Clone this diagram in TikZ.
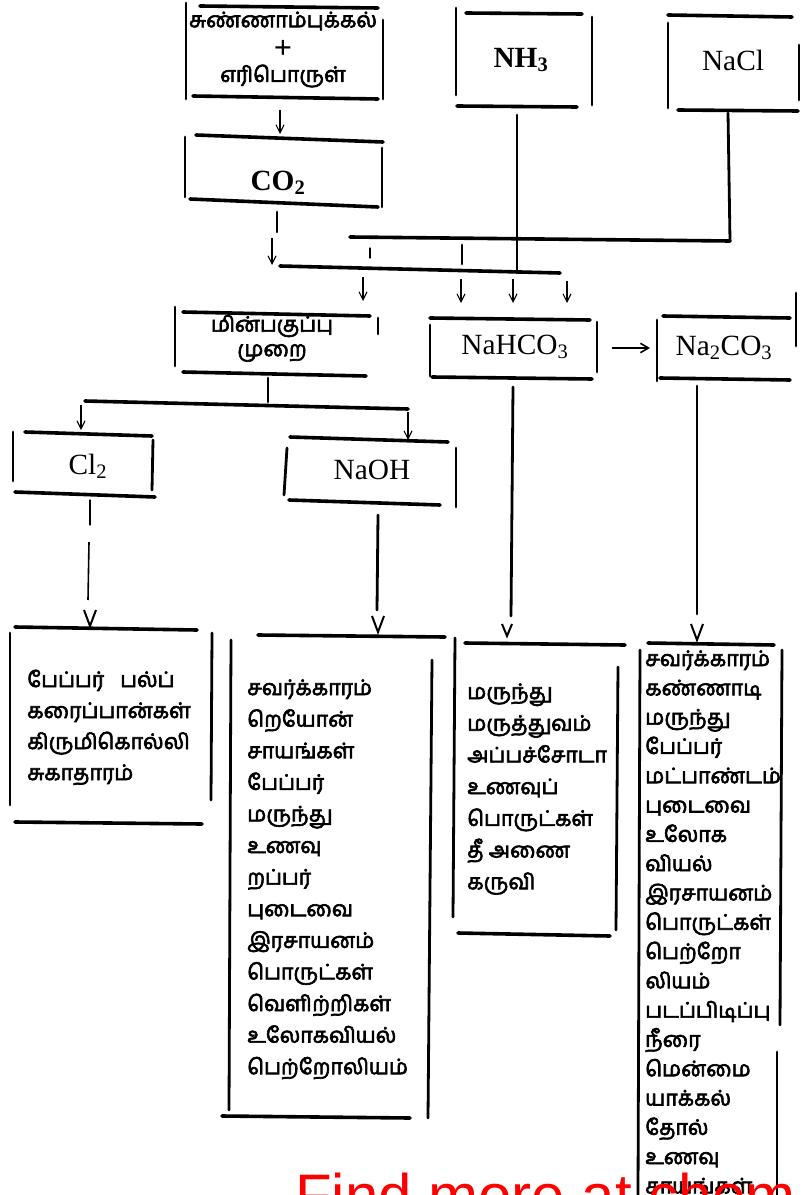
\documentclass[tikz,border=0pt]{standalone}
\usepackage{fontspec}
\setmainfont{Liberation Serif}
\newfontfamily\tamil[Script=Tamil, FakeBold=3]{Hind Madurai}
\newfontfamily\wmfont{Liberation Sans}
\usetikzlibrary{arrows.meta}
\newcommand\Vtip[1]{\draw[vee] (#1) ++(-6,-8) -- ++(6,16) -- ++(6,-16);}
\begin{document}
\begin{tikzpicture}[x=0.75pt,y=-0.75pt,
  hl/.style={line width=2.7pt, line cap=round},
  vl/.style={line width=2.1pt, line cap=round},
  thinl/.style={line width=0.8pt, line cap=round},
  sarr/.style={line width=0.8pt, -{Straight Barb[length=6pt,width=6pt,line width=0.8pt]}},
  vee/.style={line width=1.5pt},
  tam/.style={font=\tamil\fontsize{16}{18}\selectfont, inner sep=0pt, anchor=base west},
  tamc/.style={font=\tamil\fontsize{16}{18}\selectfont, inner sep=0pt, anchor=center},
  chem/.style={font=\fontsize{22}{24}\selectfont, inner sep=0pt},
  chemb/.style={font=\bfseries\fontsize{22}{24}\selectfont, inner sep=0pt}]
\useasboundingbox (0,0) rectangle (801,1195);
\fill[white] (0,0) rectangle (801,1195);

% ---------- top row ----------
\node[tamc] (lime1) at (283,21) {சுண்ணாம்புக்கல்};
\node[font=\bfseries\fontsize{24}{24}\selectfont, inner sep=0pt] (plus) at (283,49) {+};
\node[tamc] (lime2) at (283,76) {எரிபொருள்};
\draw[hl] (200,6) -- (378,8);
\draw[vl] (186,3) -- (186,99);
\draw[vl] (383,20) -- (383,99);
\draw[hl] (193,96) -- (378,99);

\node[chemb] (nh3) at (521,60) {NH\textsubscript{3}};
\draw[hl] (466,13) -- (582,14);
\draw[vl] (456,8) -- (456,95);
\draw[vl] (592,17) -- (592,105);
\draw[hl] (457,106) -- (577,107);

\node[chem] (nacl) at (733,60) {NaCl};
\draw[hl] (668,15) -- (792,17);
\draw[vl] (668,23) -- (668,108);
\draw[hl] (678,110) -- (798,111);
\draw[vl] (799,45) -- (799,100);

% ---------- CO2 ----------
\node[chemb] (co2) at (278,183) {CO\textsubscript{2}};
\draw[hl] (196,135) -- (383,142);
\draw[vl] (185,137) -- (185,197);
\draw[vl] (382,148) -- (382,207);
\draw[hl] (190,199) -- (378,207);

\coordinate (limeS) at (280,110);
\coordinate (co2N) at (280,134);
\draw[sarr] (limeS) -- (co2N);

% ---------- collector lines ----------
\coordinate (co2S) at (277,212);
\coordinate (co2T) at (277,232);
\draw[vl] (co2S) -- (co2T);
\coordinate (co2A) at (272,238);
\coordinate (lowL) at (272,265);
\draw[sarr] (co2A) -- (lowL);

\coordinate (upL) at (350,237);
\coordinate (upR) at (730,241);
\draw[hl] (upL) -- (upR);
\coordinate (naclS) at (728,113);
\draw[vl] (naclS) -- (upR);
\coordinate (nh3S) at (517,115);
\coordinate (nh3E) at (517,273);
\draw[vl] (nh3S) -- (nh3E);

\coordinate (lowA) at (280,266);
\coordinate (lowB) at (560,273);
\draw[hl] (lowA) -- (lowB);
\draw[thinl] (370,248) -- (370,258);
\draw[vl] (462,245) -- (462,264);

% arrows to second row
\coordinate (a1) at (363,277); \coordinate (a1e) at (363,301);
\coordinate (a2) at (461,279); \coordinate (a2e) at (461,303);
\coordinate (a3) at (513,279); \coordinate (a3e) at (513,303);
\coordinate (a4) at (567,281); \coordinate (a4e) at (567,303);
\draw[sarr] (a1) -- (a1e);
\draw[sarr] (a2) -- (a2e);
\draw[sarr, line width=1.3pt] (a3) -- (a3e);
\draw[sarr] (a4) -- (a4e);

% ---------- second row ----------
\node[tamc] (elec1) at (272,326) {மின்பகுப்பு};
\node[tamc] (elec2) at (272,353) {முறை};
\draw[vl] (175,307) -- (175,366);
\draw[hl] (183,312) -- (370,316);
\draw[vl] (378,318) -- (378,334);
\draw[hl] (183,372) -- (366,376);

\node[chem] (nahco3) at (515,347) {NaHCO\textsubscript{3}};
\draw[hl] (430,318) -- (590,320);
\draw[vl] (430,325) -- (430,376);
\draw[vl] (597,322) -- (597,372);
\draw[hl] (432,377) -- (592,379);

\node[chem] (na2co3) at (724,348) {Na\textsubscript{2}CO\textsubscript{3}};
\draw[vl] (657,320) -- (657,381);
\draw[hl] (663,316) -- (790,318);
\draw[vl] (796,293) -- (796,346);
\draw[hl] (660,378) -- (790,380);

\coordinate (bcA) at (612,348);
\coordinate (bcB) at (650,348);
\draw[line width=1.6pt, -{Straight Barb[length=6pt,width=7pt,line width=1.2pt]}] (bcA) -- (bcB);

% ---------- electrolysis split ----------
\coordinate (elS) at (268,378);
\coordinate (elT) at (268,402);
\draw[vl] (elS) -- (elT);
\draw[hl] (85,401) -- (408,409);
\coordinate (b1) at (81,405); \coordinate (b1e) at (81,430);
\coordinate (b2) at (408,412); \coordinate (b2e) at (408,440);
\draw[sarr] (b1) -- (b1e);
\draw[sarr] (b2) -- (b2e);

% ---------- third row ----------
\node[chem] (cl2) at (88,466) {Cl\textsubscript{2}};
\draw[vl] (13,432) -- (13,481);
\draw[hl] (25,432) -- (152,436);
\draw[vl] (153,440) -- (152,490);
\draw[hl] (15,492) -- (155,497);

\node[chem] (naoh) at (372,470) {NaOH};
\draw[hl] (290,437) -- (448,442);
\draw[vl] (287,448) -- (284,495);
\draw[vl] (456,448) -- (456,507);
\draw[hl] (289,500) -- (440,505);

% ---------- down connectors ----------
\coordinate (c1s) at (90,500); \coordinate (c1t) at (90,525);
\draw[thinl] (c1s) -- (c1t);
\coordinate (c1u) at (89,542); \coordinate (c1e) at (88,600);
\draw[line width=1.2pt] (c1u) -- (c1e);
\coordinate (v1) at (90,618); \Vtip{v1}

\coordinate (c2s) at (378,515); \coordinate (c2e) at (377,610);
\draw[vl] (c2s) -- (c2e);
\coordinate (v2) at (378,624); \Vtip{v2}

\coordinate (c3s) at (513,387); \coordinate (c3e) at (511,616);
\draw[vl] (c3s) -- (c3e);
\coordinate (v3) at (507,630); \draw[vee] (v3) ++(-5,-6) -- ++(5,12) -- ++(5,-12);

\coordinate (c4s) at (697,386); \coordinate (c4e) at (697,614);
\draw[vl] (c4s) -- (c4e);
\coordinate (v4) at (697,632); \Vtip{v4}

% ---------- list boxes ----------
\draw[hl] (15,627) -- (197,630);
\draw[vl] (10,633) -- (10,805);
\draw[vl] (212,633) -- (211,800);
\draw[hl] (15,822) -- (202,824);
\foreach \t [count=\i from 0] in {பேப்பர்\hspace{12pt}பல்ப், கரைப்பான்கள், கிருமிகொல்லி, சுகாதாரம்}
  \node[tam] (clL\i) at (27,687+31*\i) {\t};

\draw[hl] (258,635) -- (445,637);
\draw[vl] (231,640) -- (229,1110);
\draw[vl] (432,660) -- (428,1118);
\draw[hl] (222,1116) -- (410,1118);
\foreach \t [count=\i from 0] in {சவர்க்காரம், றெயோன், சாயங்கள், பேப்பர், மருந்து, உணவு, றப்பர், புடைவை, இரசாயனம், பொருட்கள், வெளிற்றிகள், உலோகவியல், பெற்றோலியம்}
  \node[tam] (ohL\i) at (247,695+31.6*\i) {\t};

\draw[hl] (465,643) -- (625,645);
\draw[vl] (455,638) -- (453,917);
\draw[vl] (618,667) -- (616,930);
\draw[hl] (458,933) -- (610,936);
\foreach \t [count=\i from 0] in {மருந்து, மருத்துவம், அப்பச்சோடா, உணவுப், பொருட்கள், தீ அணை, கருவி}
  \node[tam] (bcL\i) at (467,699+31.7*\i) {\t};

\draw[hl] (648,643) -- (774,645);
\draw[vl] (640,650) -- (638,1195);
\draw[vl] (782,650) -- (780,1025);
\draw[vl] (777,1052) -- (777,1195);
\foreach \t [count=\i from 0] in {சவர்க்காரம், கண்ணாடி, மருந்து, பேப்பர், மட்பாண்டம், புடைவை, உலோக, வியல், இரசாயனம், பொருட்கள், பெற்றோ, லியம், படப்பிடிப்பு, நீரை, மென்மை, யாக்கல், தோல், உணவு, சாயங்கள்}
  \node[tam] (ccL\i) at (645,666+29.3*\i) {\t};

% ---------- watermark ----------
\node[font=\wmfont\fontsize{45}{50}\selectfont, text=red, inner sep=0pt, anchor=base west] (wm) at (295,1216) {Find more at chem};
\end{tikzpicture}
\end{document}
